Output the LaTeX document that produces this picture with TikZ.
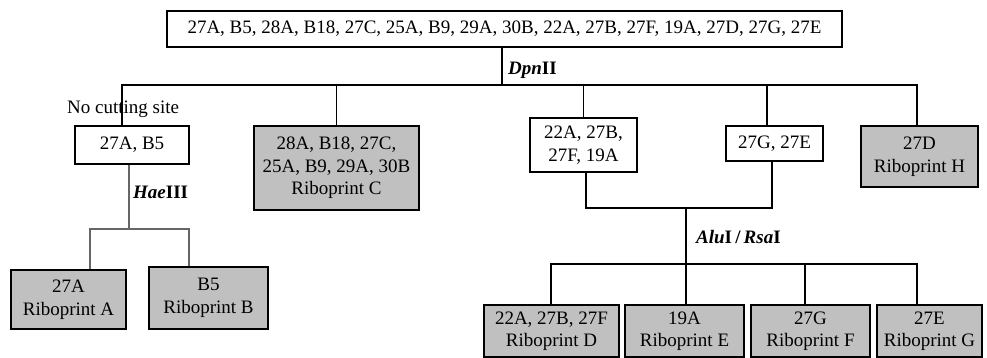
\documentclass[tikz,border=0pt]{standalone}
\usepackage{fontspec}
\setmainfont{Liberation Serif}
\definecolor{printgray}{RGB}{192,192,192}
\begin{document}
\begin{tikzpicture}[x=1pt,y=-1pt,
		font=\fontsize{19}{22.5}\selectfont,
		isolate/.style={draw,line width=1.3pt,fill=white,align=center,inner sep=0pt},
		riboprint/.style={isolate,fill=printgray},
		enzyme/.style={anchor=west,inner sep=0pt,font=\fontsize{19}{22.5}\selectfont\bfseries},
		link/.style={line width=1.1pt},
		haelink/.style={line width=1.6pt,draw=black!60}]
	\useasboundingbox (0,0) rectangle (987,358);
	\node[isolate,minimum width=675,minimum height=36] (all) at (504.5,29) {27A, B5, 28A, B18, 27C, 25A, B9, 29A, 30B, 22A, 27B, 27F, 19A, 27D, 27G, 27E};
	\node[isolate,minimum width=114,minimum height=38] (ab) at (132,145) {27A, B5};
	\node[riboprint,minimum width=165,minimum height=84] (ribC) at (336.5,168) {28A, B18, 27C,\\25A, B9, 29A, 30B\\Riboprint C};
	\node[isolate,minimum width=107,minimum height=54] (dfa) at (583.5,145) {22A, 27B,\\27F, 19A};
	\node[isolate,minimum width=97,minimum height=35] (ge) at (774.5,143.5) {27G, 27E};
	\node[riboprint,minimum width=117,minimum height=61] (ribH) at (919.5,156.5) {27D\\Riboprint H};
	\node[riboprint,minimum width=115,minimum height=59] (ribA) at (68.5,299.5) {27A\\Riboprint A};
	\node[riboprint,minimum width=119,minimum height=62] (ribB) at (208.5,298) {B5\\Riboprint B};
	\node[riboprint,minimum width=135,minimum height=52] (ribD) at (551.5,331) {22A, 27B, 27F\\Riboprint D};
	\node[riboprint,minimum width=119,minimum height=52] (ribE) at (684.5,331) {19A\\Riboprint E};
	\node[riboprint,minimum width=119,minimum height=52] (ribF) at (810.5,331) {27G\\Riboprint F};
	\node[riboprint,minimum width=105,minimum height=52] (ribG) at (929.5,331) {27E\\Riboprint G};
	\coordinate (dpn) at (502,85);
	\coordinate (hae) at (129,229);
	\coordinate (alu) at (686,208);
	\coordinate (alubus) at (686,264);
	\draw[link] ([xshift=-2.5pt]all.south) -- (dpn);
	\draw[link] ([xshift=-10pt]ab.north) |- (dpn);
	\draw[link] (ribC.north) |- (dpn);
	\draw[link] (dfa.north) |- (dpn);
	\draw[link] ([xshift=-7.5pt]ge.north) |- (dpn);
	\draw[link] ([xshift=-2.5pt]ribH.north) |- (dpn);
	\draw[haelink] ([xshift=-3pt]ab.south) -- (hae);
	\draw[haelink] ([xshift=21.5pt]ribA.north) |- (hae);
	\draw[haelink] ([xshift=-19.5pt]ribB.north) |- (hae);
	\draw[link] ([xshift=2.5pt]dfa.south) |- (alu);
	\draw[link] ([xshift=-2.5pt]ge.south) |- (alu);
	\draw[link] (alu) -- (alubus);
	\draw[link] ([xshift=-0.5pt]ribD.north) |- (alubus);
	\draw[link] ([xshift=1.5pt]ribE.north) |- (alubus);
	\draw[link] ([xshift=-5.5pt]ribF.north) |- (alubus);
	\draw[link] ([xshift=-12.5pt]ribG.north) |- (alubus);
	\node[anchor=west,inner sep=0pt] (nocut) at (67,109) {No cutting site};
	\node[enzyme] (dpnlabel) at (508,70) {\textit{Dpn}II};
	\node[enzyme] (haelabel) at (133,192) {\textit{Hae}III};
	\node[enzyme] (alulabel) at (696,237) {\textit{Alu}I\,/\,\textit{Rsa}I};
\end{tikzpicture}
\end{document}
